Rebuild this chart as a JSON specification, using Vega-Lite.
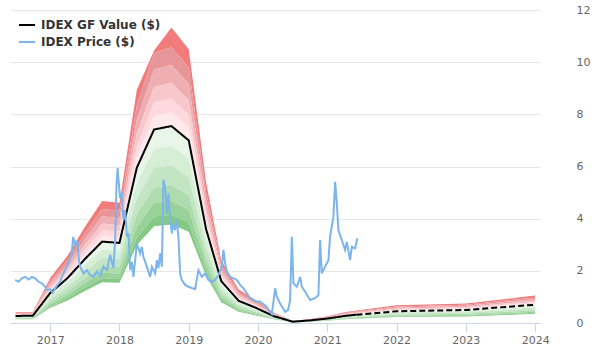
{
  "$schema": "https://vega.github.io/schema/vega-lite/v6.json",
  "width": 530,
  "height": 313,
  "autosize": {"type": "none"},
  "padding": {"left": 10, "top": 10, "right": 60, "bottom": 37},
  "background": "#ffffff",
  "config": {
    "view": {"stroke": null},
    "font": "DejaVu Sans",
    "axis": {"labelFont": "DejaVu Sans", "labelFontSize": 11, "labelColor": "#666666", "titleFontSize": 11}
  },
  "datasets": {
    "band": [
      {"d": 2016.5, "gf": 0.27, "r1": 0.29, "r2": 0.31, "r3": 0.33, "r4": 0.35, "r5": 0.38, "r6": 0.41, "g1": 0.24, "g2": 0.22, "g3": 0.19, "g4": 0.17, "g5": 0.15, "g6": 0.14},
      {"d": 2016.75, "gf": 0.28, "r1": 0.30, "r2": 0.32, "r3": 0.34, "r4": 0.37, "r5": 0.39, "r6": 0.42, "g1": 0.25, "g2": 0.22, "g3": 0.20, "g4": 0.17, "g5": 0.15, "g6": 0.14},
      {"d": 2017.0, "gf": 1.15, "r1": 1.23, "r2": 1.31, "r3": 1.40, "r4": 1.51, "r5": 1.61, "r6": 1.73, "g1": 1.04, "g2": 0.92, "g3": 0.81, "g4": 0.71, "g5": 0.63, "g6": 0.58},
      {"d": 2017.25, "gf": 1.72, "r1": 1.84, "r2": 1.96, "r3": 2.10, "r4": 2.25, "r5": 2.41, "r6": 2.58, "g1": 1.55, "g2": 1.38, "g3": 1.20, "g4": 1.07, "g5": 0.95, "g6": 0.86},
      {"d": 2017.5, "gf": 2.45, "r1": 2.62, "r2": 2.79, "r3": 2.99, "r4": 3.21, "r5": 3.43, "r6": 3.68, "g1": 2.21, "g2": 1.96, "g3": 1.72, "g4": 1.52, "g5": 1.35, "g6": 1.23},
      {"d": 2017.75, "gf": 3.12, "r1": 3.34, "r2": 3.56, "r3": 3.81, "r4": 4.09, "r5": 4.37, "r6": 4.68, "g1": 2.81, "g2": 2.50, "g3": 2.18, "g4": 1.93, "g5": 1.72, "g6": 1.56},
      {"d": 2018.0, "gf": 3.07, "r1": 3.28, "r2": 3.50, "r3": 3.75, "r4": 4.02, "r5": 4.30, "r6": 4.61, "g1": 2.76, "g2": 2.46, "g3": 2.15, "g4": 1.90, "g5": 1.69, "g6": 1.54},
      {"d": 2018.25, "gf": 5.95, "r1": 6.37, "r2": 6.78, "r3": 7.26, "r4": 7.79, "r5": 8.33, "r6": 8.93, "g1": 5.36, "g2": 4.76, "g3": 4.17, "g4": 3.69, "g5": 3.27, "g6": 2.98},
      {"d": 2018.5, "gf": 7.42, "r1": 7.94, "r2": 8.46, "r3": 9.05, "r4": 9.72, "r5": 10.35, "r6": 10.45, "g1": 6.68, "g2": 5.94, "g3": 5.19, "g4": 4.60, "g5": 4.08, "g6": 3.71},
      {"d": 2018.75, "gf": 7.55, "r1": 8.08, "r2": 8.61, "r3": 9.21, "r4": 9.89, "r5": 10.57, "r6": 11.33, "g1": 6.80, "g2": 6.04, "g3": 5.29, "g4": 4.68, "g5": 4.15, "g6": 3.78},
      {"d": 2019.0, "gf": 7.0, "r1": 7.49, "r2": 7.98, "r3": 8.54, "r4": 9.17, "r5": 9.80, "r6": 10.50, "g1": 6.30, "g2": 5.60, "g3": 4.90, "g4": 4.34, "g5": 3.85, "g6": 3.50},
      {"d": 2019.25, "gf": 3.6, "r1": 3.85, "r2": 4.10, "r3": 4.39, "r4": 4.72, "r5": 5.04, "r6": 5.40, "g1": 3.24, "g2": 2.88, "g3": 2.52, "g4": 2.23, "g5": 1.98, "g6": 1.80},
      {"d": 2019.47, "gf": 1.6, "r1": 1.71, "r2": 1.82, "r3": 1.95, "r4": 2.10, "r5": 2.24, "r6": 2.40, "g1": 1.44, "g2": 1.28, "g3": 1.12, "g4": 0.99, "g5": 0.88, "g6": 0.80},
      {"d": 2019.72, "gf": 0.85, "r1": 0.91, "r2": 0.97, "r3": 1.04, "r4": 1.11, "r5": 1.19, "r6": 1.28, "g1": 0.77, "g2": 0.68, "g3": 0.60, "g4": 0.53, "g5": 0.47, "g6": 0.43},
      {"d": 2019.97, "gf": 0.58, "r1": 0.62, "r2": 0.66, "r3": 0.71, "r4": 0.76, "r5": 0.81, "r6": 0.87, "g1": 0.52, "g2": 0.46, "g3": 0.41, "g4": 0.36, "g5": 0.32, "g6": 0.29},
      {"d": 2020.22, "gf": 0.27, "r1": 0.29, "r2": 0.31, "r3": 0.33, "r4": 0.35, "r5": 0.38, "r6": 0.41, "g1": 0.24, "g2": 0.22, "g3": 0.19, "g4": 0.17, "g5": 0.15, "g6": 0.14},
      {"d": 2020.5, "gf": 0.05, "r1": 0.05, "r2": 0.06, "r3": 0.06, "r4": 0.07, "r5": 0.07, "r6": 0.08, "g1": 0.05, "g2": 0.04, "g3": 0.04, "g4": 0.03, "g5": 0.03, "g6": 0.03},
      {"d": 2020.75, "gf": 0.1, "r1": 0.11, "r2": 0.11, "r3": 0.12, "r4": 0.13, "r5": 0.14, "r6": 0.15, "g1": 0.09, "g2": 0.08, "g3": 0.07, "g4": 0.06, "g5": 0.06, "g6": 0.05},
      {"d": 2021.0, "gf": 0.17, "r1": 0.18, "r2": 0.19, "r3": 0.21, "r4": 0.22, "r5": 0.24, "r6": 0.26, "g1": 0.15, "g2": 0.14, "g3": 0.12, "g4": 0.11, "g5": 0.09, "g6": 0.09},
      {"d": 2021.25, "gf": 0.27, "r1": 0.29, "r2": 0.31, "r3": 0.33, "r4": 0.35, "r5": 0.38, "r6": 0.41, "g1": 0.24, "g2": 0.22, "g3": 0.19, "g4": 0.17, "g5": 0.15, "g6": 0.14},
      {"d": 2021.42, "gf": 0.32, "r1": 0.34, "r2": 0.36, "r3": 0.39, "r4": 0.42, "r5": 0.45, "r6": 0.48, "g1": 0.29, "g2": 0.26, "g3": 0.22, "g4": 0.20, "g5": 0.18, "g6": 0.16},
      {"d": 2022.0, "gf": 0.45, "r1": 0.48, "r2": 0.51, "r3": 0.55, "r4": 0.59, "r5": 0.63, "r6": 0.68, "g1": 0.41, "g2": 0.36, "g3": 0.32, "g4": 0.28, "g5": 0.25, "g6": 0.23},
      {"d": 2023.0, "gf": 0.5, "r1": 0.54, "r2": 0.57, "r3": 0.61, "r4": 0.66, "r5": 0.70, "r6": 0.75, "g1": 0.45, "g2": 0.40, "g3": 0.35, "g4": 0.31, "g5": 0.28, "g6": 0.25},
      {"d": 2024.0, "gf": 0.7, "r1": 0.75, "r2": 0.80, "r3": 0.85, "r4": 0.92, "r5": 0.98, "r6": 1.05, "g1": 0.63, "g2": 0.56, "g3": 0.49, "g4": 0.43, "g5": 0.39, "g6": 0.35}
    ],
    "gf": [
      {"d": 2016.5, "v": 0.27, "s": "IDEX GF Value ($)", "seg": "a"},
      {"d": 2016.75, "v": 0.28, "s": "IDEX GF Value ($)", "seg": "a"},
      {"d": 2017.0, "v": 1.15, "s": "IDEX GF Value ($)", "seg": "a"},
      {"d": 2017.25, "v": 1.72, "s": "IDEX GF Value ($)", "seg": "a"},
      {"d": 2017.5, "v": 2.45, "s": "IDEX GF Value ($)", "seg": "a"},
      {"d": 2017.75, "v": 3.12, "s": "IDEX GF Value ($)", "seg": "a"},
      {"d": 2018.0, "v": 3.07, "s": "IDEX GF Value ($)", "seg": "a"},
      {"d": 2018.25, "v": 5.95, "s": "IDEX GF Value ($)", "seg": "a"},
      {"d": 2018.5, "v": 7.42, "s": "IDEX GF Value ($)", "seg": "a"},
      {"d": 2018.75, "v": 7.55, "s": "IDEX GF Value ($)", "seg": "a"},
      {"d": 2019.0, "v": 7.0, "s": "IDEX GF Value ($)", "seg": "a"},
      {"d": 2019.25, "v": 3.6, "s": "IDEX GF Value ($)", "seg": "a"},
      {"d": 2019.47, "v": 1.6, "s": "IDEX GF Value ($)", "seg": "a"},
      {"d": 2019.72, "v": 0.85, "s": "IDEX GF Value ($)", "seg": "a"},
      {"d": 2019.97, "v": 0.58, "s": "IDEX GF Value ($)", "seg": "a"},
      {"d": 2020.22, "v": 0.27, "s": "IDEX GF Value ($)", "seg": "a"},
      {"d": 2020.5, "v": 0.05, "s": "IDEX GF Value ($)", "seg": "a"},
      {"d": 2020.75, "v": 0.1, "s": "IDEX GF Value ($)", "seg": "a"},
      {"d": 2021.0, "v": 0.17, "s": "IDEX GF Value ($)", "seg": "a"},
      {"d": 2021.25, "v": 0.27, "s": "IDEX GF Value ($)", "seg": "a"},
      {"d": 2021.42, "v": 0.32, "s": "IDEX GF Value ($)", "seg": "a"},
      {"d": 2021.42, "v": 0.32, "s": "IDEX GF Value ($)", "seg": "b"},
      {"d": 2022.0, "v": 0.45, "s": "IDEX GF Value ($)", "seg": "b"},
      {"d": 2023.0, "v": 0.5, "s": "IDEX GF Value ($)", "seg": "b"},
      {"d": 2024.0, "v": 0.7, "s": "IDEX GF Value ($)", "seg": "b"}
    ],
    "price": [
      {"d": 2016.495, "p": 1.65}, {"d": 2016.543, "p": 1.58}, {"d": 2016.592, "p": 1.71}, {"d": 2016.639, "p": 1.77},
      {"d": 2016.687, "p": 1.67}, {"d": 2016.736, "p": 1.77}, {"d": 2016.784, "p": 1.71}, {"d": 2016.831, "p": 1.58},
      {"d": 2016.88, "p": 1.52}, {"d": 2016.928, "p": 1.39}, {"d": 2016.952, "p": 1.26}, {"d": 2017.0, "p": 1.29},
      {"d": 2017.039, "p": 1.16}, {"d": 2017.072, "p": 1.33}, {"d": 2017.105, "p": 1.46}, {"d": 2017.144, "p": 1.58},
      {"d": 2017.169, "p": 1.77}, {"d": 2017.216, "p": 2.03}, {"d": 2017.264, "p": 2.29}, {"d": 2017.289, "p": 2.54},
      {"d": 2017.313, "p": 2.73}, {"d": 2017.332, "p": 3.3}, {"d": 2017.361, "p": 2.99}, {"d": 2017.39, "p": 3.18},
      {"d": 2017.418, "p": 2.34}, {"d": 2017.433, "p": 2.16}, {"d": 2017.481, "p": 1.9}, {"d": 2017.53, "p": 2.03},
      {"d": 2017.577, "p": 1.84}, {"d": 2017.625, "p": 1.77}, {"d": 2017.674, "p": 1.97}, {"d": 2017.722, "p": 1.8},
      {"d": 2017.769, "p": 2.16}, {"d": 2017.818, "p": 2.03}, {"d": 2017.866, "p": 2.61}, {"d": 2017.89, "p": 2.35},
      {"d": 2017.913, "p": 2.11}, {"d": 2017.938, "p": 3.18}, {"d": 2017.957, "p": 5.29}, {"d": 2017.974, "p": 5.94},
      {"d": 2017.986, "p": 5.48}, {"d": 2018.01, "p": 4.79}, {"d": 2018.035, "p": 4.98}, {"d": 2018.058, "p": 3.95},
      {"d": 2018.082, "p": 4.33}, {"d": 2018.107, "p": 3.31}, {"d": 2018.13, "p": 3.44}, {"d": 2018.154, "p": 2.03},
      {"d": 2018.179, "p": 2.34}, {"d": 2018.202, "p": 1.77}, {"d": 2018.251, "p": 3.05}, {"d": 2018.299, "p": 2.67},
      {"d": 2018.323, "p": 2.92}, {"d": 2018.346, "p": 2.54}, {"d": 2018.395, "p": 2.16}, {"d": 2018.443, "p": 1.77},
      {"d": 2018.468, "p": 2.16}, {"d": 2018.515, "p": 1.9}, {"d": 2018.54, "p": 2.41}, {"d": 2018.563, "p": 2.1},
      {"d": 2018.587, "p": 2.67}, {"d": 2018.612, "p": 2.16}, {"d": 2018.635, "p": 5.48}, {"d": 2018.659, "p": 5.22},
      {"d": 2018.684, "p": 4.2}, {"d": 2018.707, "p": 4.97}, {"d": 2018.732, "p": 3.95}, {"d": 2018.756, "p": 3.44},
      {"d": 2018.779, "p": 3.82}, {"d": 2018.804, "p": 3.56}, {"d": 2018.828, "p": 3.95}, {"d": 2018.851, "p": 3.31},
      {"d": 2018.876, "p": 1.9}, {"d": 2018.9, "p": 1.65}, {"d": 2018.948, "p": 1.46}, {"d": 2018.996, "p": 1.39},
      {"d": 2019.045, "p": 1.34}, {"d": 2019.092, "p": 1.3}, {"d": 2019.14, "p": 2.03}, {"d": 2019.189, "p": 1.77},
      {"d": 2019.237, "p": 1.9}, {"d": 2019.284, "p": 1.65}, {"d": 2019.333, "p": 1.58}, {"d": 2019.381, "p": 1.65},
      {"d": 2019.429, "p": 1.84}, {"d": 2019.478, "p": 2.16}, {"d": 2019.501, "p": 2.8}, {"d": 2019.525, "p": 2.29},
      {"d": 2019.55, "p": 1.97}, {"d": 2019.597, "p": 1.77}, {"d": 2019.645, "p": 1.71}, {"d": 2019.694, "p": 1.65},
      {"d": 2019.742, "p": 1.46}, {"d": 2019.789, "p": 1.33}, {"d": 2019.838, "p": 1.14}, {"d": 2019.886, "p": 0.95},
      {"d": 2019.934, "p": 0.88}, {"d": 2019.983, "p": 0.82}, {"d": 2020.03, "p": 0.82}, {"d": 2020.127, "p": 0.62},
      {"d": 2020.15, "p": 0.5}, {"d": 2020.199, "p": 0.34}, {"d": 2020.247, "p": 1.33}, {"d": 2020.271, "p": 1.01},
      {"d": 2020.319, "p": 0.75}, {"d": 2020.392, "p": 0.43}, {"d": 2020.435, "p": 0.5}, {"d": 2020.463, "p": 0.88},
      {"d": 2020.488, "p": 3.31}, {"d": 2020.511, "p": 1.52}, {"d": 2020.56, "p": 1.39}, {"d": 2020.608, "p": 1.77},
      {"d": 2020.632, "p": 1.39}, {"d": 2020.68, "p": 1.2}, {"d": 2020.752, "p": 0.88}, {"d": 2020.824, "p": 0.95},
      {"d": 2020.872, "p": 1.07}, {"d": 2020.896, "p": 3.18}, {"d": 2020.921, "p": 1.9}, {"d": 2020.968, "p": 2.16},
      {"d": 2021.016, "p": 2.41}, {"d": 2021.04, "p": 3.31}, {"d": 2021.088, "p": 4.07}, {"d": 2021.113, "p": 5.41},
      {"d": 2021.137, "p": 4.59}, {"d": 2021.16, "p": 3.56}, {"d": 2021.209, "p": 3.18}, {"d": 2021.257, "p": 2.8},
      {"d": 2021.281, "p": 3.11}, {"d": 2021.329, "p": 2.41}, {"d": 2021.354, "p": 2.92}, {"d": 2021.401, "p": 2.86},
      {"d": 2021.434, "p": 3.25}
    ]
  },
  "encoding": {
    "x": {"field": "d", "type": "quantitative",
      "scale": {"domain": [2016.42, 2024.07], "nice": false, "zero": false},
      "axis": {"title": null, "values": [2017, 2018, 2019, 2020, 2021, 2022, 2023, 2024], "format": "d",
        "grid": false, "domainColor": "#ccd6eb", "tickColor": "#ccd6eb", "tickSize": 9, "labelPadding": 2, "labelFlush": false}}
  },
  "layer": [
    {"data": {"name": "band"}, "mark": {"type": "area", "color": "#f27b7b"}, "encoding": {"y": {"field": "r6", "type": "quantitative", "scale": {"domain": [0, 12], "nice": false}, "axis": {"title": null, "orient": "right", "values": [0, 2, 4, 6, 8, 10, 12], "grid": true, "gridColor": "#e6e6e6", "domain": false, "ticks": false, "labelPadding": 36}}, "y2": {"field": "r5"}}},
    {"data": {"name": "band"}, "mark": {"type": "area", "color": "#e8959a"}, "encoding": {"y": {"field": "r5", "type": "quantitative"}, "y2": {"field": "r4"}}},
    {"data": {"name": "band"}, "mark": {"type": "area", "color": "#efaeb1"}, "encoding": {"y": {"field": "r4", "type": "quantitative"}, "y2": {"field": "r3"}}},
    {"data": {"name": "band"}, "mark": {"type": "area", "color": "#f8c7cb"}, "encoding": {"y": {"field": "r3", "type": "quantitative"}, "y2": {"field": "r2"}}},
    {"data": {"name": "band"}, "mark": {"type": "area", "color": "#ffd9dd"}, "encoding": {"y": {"field": "r2", "type": "quantitative"}, "y2": {"field": "r1"}}},
    {"data": {"name": "band"}, "mark": {"type": "area", "color": "#ffe9eb"}, "encoding": {"y": {"field": "r1", "type": "quantitative"}, "y2": {"field": "gf"}}},
    {"data": {"name": "band"}, "mark": {"type": "area", "color": "#e9f5e9"}, "encoding": {"y": {"field": "gf", "type": "quantitative"}, "y2": {"field": "g1"}}},
    {"data": {"name": "band"}, "mark": {"type": "area", "color": "#d6edd6"}, "encoding": {"y": {"field": "g1", "type": "quantitative"}, "y2": {"field": "g2"}}},
    {"data": {"name": "band"}, "mark": {"type": "area", "color": "#c3e5c3"}, "encoding": {"y": {"field": "g2", "type": "quantitative"}, "y2": {"field": "g3"}}},
    {"data": {"name": "band"}, "mark": {"type": "area", "color": "#aedcae"}, "encoding": {"y": {"field": "g3", "type": "quantitative"}, "y2": {"field": "g4"}}},
    {"data": {"name": "band"}, "mark": {"type": "area", "color": "#99d299"}, "encoding": {"y": {"field": "g4", "type": "quantitative"}, "y2": {"field": "g5"}}},
    {"data": {"name": "band"}, "mark": {"type": "area", "color": "#85c985"}, "encoding": {"y": {"field": "g5", "type": "quantitative"}, "y2": {"field": "g6"}}},
    {"data": {"name": "gf"}, "mark": {"type": "line", "strokeWidth": 2},
      "encoding": {
        "y": {"field": "v", "type": "quantitative"},
        "color": {"field": "s", "type": "nominal",
          "scale": {"domain": ["IDEX GF Value ($)", "IDEX Price ($)"], "range": ["#000000", "#7cb5ec"]},
          "legend": {"title": null, "orient": "none", "legendX": 8, "legendY": 6, "symbolType": "stroke", "symbolSize": 256, "symbolStrokeWidth": 2,
            "labelFont": "DejaVu Sans", "labelFontSize": 12, "labelFontWeight": "bold", "labelColor": "#333333", "labelOffset": 5, "rowPadding": 2, "padding": 0}},
        "strokeDash": {"field": "seg", "type": "nominal", "scale": {"domain": ["a", "b"], "range": [[1, 0], [6, 3]]}, "legend": null}
      }},
    {"data": {"name": "price"}, "mark": {"type": "line", "strokeWidth": 2},
      "encoding": {
        "y": {"field": "p", "type": "quantitative"},
        "color": {"datum": "IDEX Price ($)", "type": "nominal"}
      }}
  ]
}
